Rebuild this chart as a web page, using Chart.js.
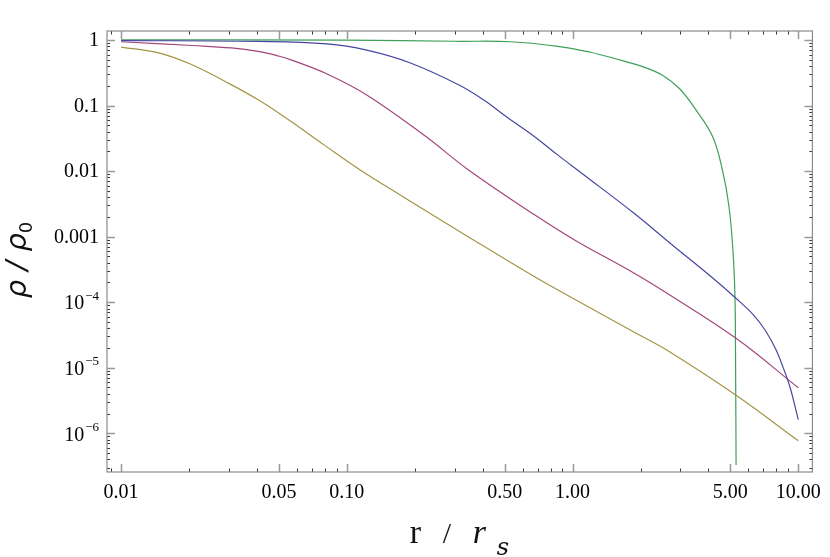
<!DOCTYPE html>
<html>
<head>
    <title>Density profiles</title>
    <script src="https://cdn.jsdelivr.net/npm/chart.js"></script>
    <style>
        body { margin: 0; background: #fff; }
    </style>
</head>
<body>
    <canvas id="myChart" width="830" height="557"></canvas>
    <script>
        // values (r / r_s, rho / rho_0)
        var rBlue = [0.01, 0.0405, 0.0817, 0.1225, 0.19, 0.314, 0.403, 0.52, 0.679, 0.861, 1.12, 1.86, 2.60, 5.26, 7.11, 8.87, 10];
        var rhoBlue = [0.98, 0.95, 0.87, 0.70, 0.45, 0.206, 0.122, 0.064, 0.0335, 0.0175, 0.0088, 0.00231, 8.9e-4, 1.17e-4, 3.8e-5, 7.3e-6, 1.62e-6];

        var rMagenta = [0.01, 0.0207, 0.0308, 0.0405, 0.0497, 0.0566, 0.0817, 0.1225, 0.224, 0.346, 0.679, 1.02, 1.86, 2.60, 5.26, 10];
        var rhoMagenta = [0.94, 0.824, 0.755, 0.668, 0.57, 0.496, 0.303, 0.145, 0.0336, 0.0104, 0.00215, 8.9e-4, 2.81e-4, 1.39e-4, 2.86e-5, 4.95e-6];

        var rOlive = [0.01, 0.0148, 0.0207, 0.0289, 0.0405, 0.0566, 0.0792, 0.1146, 0.178, 0.346, 0.679, 0.948, 1.86, 2.60, 5.26, 10];
        var rhoOlive = [0.78, 0.63, 0.416, 0.233, 0.122, 0.0569, 0.0251, 0.0104, 0.00404, 0.00099, 2.44e-4, 1.28e-4, 3.54e-5, 1.88e-5, 3.87e-6, 7.7e-7];

        var rGreen = [0.01, 0.1, 0.3, 0.533, 0.86, 1.2, 1.52, 2.06, 2.51, 2.98, 3.52, 4.17, 4.61, 4.93, 5.14, 5.24, 5.27, 5.30];
        var rhoGreen = [1.0, 0.995, 0.955, 0.94, 0.80, 0.65, 0.526, 0.388, 0.288, 0.18, 0.0857, 0.0336, 0.0104, 0.00288, 5.66e-4, 1.22e-4, 1.7e-5, 3.3e-7];

        var xTickValues = [0.01, 0.05, 0.1, 0.5, 1, 5, 10];
        var xTickLabels = ['0.01', '0.05', '0.10', '0.50', '1.00', '5.00', '10.00'];
        var yTickValues = [1e-6, 1e-5, 1e-4, 1e-3, 1e-2, 1e-1, 1];
        // [base, exponent]
        var yTickLabels = [['10', '\u22126'], ['10', '\u22125'], ['10', '\u22124'], ['0.001', ''], ['0.01', ''], ['0.1', ''], ['1', '']];

        function pairs(xs, ys) {
            return xs.map(function (x, i) { return { x: x, y: ys[i] }; });
        }

        function series(xs, ys, color) {
            return {
                data: pairs(xs, ys),
                borderColor: color,
                borderWidth: 1.2,
                pointRadius: 0,
                tension: 0.4,
                fill: false
            };
        }

        // inward frame ticks on all four sides, frame, y labels with exponents, axis titles
        var framePlugin = {
            id: 'frame',
            afterDraw: function (chart) {
                var ctx = chart.ctx, a = chart.chartArea;
                var xs = chart.scales.x, ys = chart.scales.y;
                ctx.save();

                function xTick(v, len, col) {
                    var p = Math.round(xs.getPixelForValue(v)) + 0.5;
                    ctx.strokeStyle = col;
                    ctx.beginPath();
                    ctx.moveTo(p, a.bottom); ctx.lineTo(p, a.bottom - len);
                    ctx.moveTo(p, a.top); ctx.lineTo(p, a.top + len);
                    ctx.stroke();
                }
                function yTick(v, len, col) {
                    var p = Math.round(ys.getPixelForValue(v)) + 0.5;
                    ctx.strokeStyle = col;
                    ctx.beginPath();
                    ctx.moveTo(a.left, p); ctx.lineTo(a.left + len, p);
                    ctx.moveTo(a.right, p); ctx.lineTo(a.right - len, p);
                    ctx.stroke();
                }

                ctx.lineWidth = 1;
                for (var d = -3; d <= 1; d++) {
                    for (var m = 2; m <= 9; m++) {
                        var v = m * Math.pow(10, d);
                        if (m === 5 || v < xs.min || v > xs.max) continue;
                        xTick(v, 3.5, '#333');
                    }
                }
                for (d = -7; d <= 0; d++) {
                    for (m = 2; m <= 9; m++) {
                        v = m * Math.pow(10, d);
                        if (v < ys.min || v > ys.max) continue;
                        yTick(v, 3, '#333');
                    }
                }
                ctx.lineWidth = 1.5;
                xTickValues.forEach(function (v) { xTick(v, 8, '#999'); });
                yTickValues.forEach(function (v) { yTick(v, 8, '#999'); });

                ctx.strokeStyle = '#8c8c8c';
                ctx.lineWidth = 1.2;
                ctx.strokeRect(a.left, a.top, a.right - a.left, a.bottom - a.top);

                // y tick labels
                ctx.fillStyle = '#000';
                ctx.textAlign = 'right';
                ctx.textBaseline = 'middle';
                yTickValues.forEach(function (v, i) {
                    var p = ys.getPixelForValue(v);
                    var right = a.left - 8;
                    var lab = yTickLabels[i];
                    if (lab[1]) {
                        ctx.font = '13px "Liberation Serif"';
                        var ew = ctx.measureText(lab[1]).width;
                        ctx.fillText(lab[1], right, p - 6);
                        ctx.font = '20px "Liberation Serif"';
                        ctx.fillText(lab[0], right - ew - 1, p + 2);
                    } else {
                        ctx.font = '20px "Liberation Serif"';
                        ctx.fillText(lab[0], right, p + 1);
                    }
                });

                // axis titles with sub-scripts
                var midX = (a.left + a.right) / 2;
                ctx.textAlign = 'left';
                ctx.textBaseline = 'alphabetic';
                ctx.fillStyle = '#111';
                ctx.font = '34px "Liberation Serif"';
                ctx.fillText('r', midX - 50, 543);
                ctx.font = '30px "Liberation Serif"';
                ctx.fillText('/', midX - 17, 543);
                ctx.font = 'italic 34px "Liberation Serif"';
                ctx.fillText('r', midX + 13, 543);
                ctx.font = 'italic 24px "DejaVu Serif"';
                ctx.fillText('s', midX + 37, 555);

                ctx.save();
                ctx.translate(26, 260);
                ctx.rotate(-Math.PI / 2);
                ctx.font = 'italic 29px "DejaVu Sans"';
                var t1 = '\u03C1 / \u03C1';
                var w1 = ctx.measureText(t1).width;
                ctx.font = '18px "DejaVu Sans"';
                var w2 = ctx.measureText('0').width;
                var x0 = -(w1 + w2) / 2;
                ctx.font = 'italic 29px "DejaVu Sans"';
                ctx.fillText(t1, x0, 0);
                ctx.font = '18px "DejaVu Sans"';
                ctx.fillText('0', x0 + w1, 6);
                ctx.restore();

                ctx.restore();
            }
        };

        var ctx = document.getElementById('myChart').getContext('2d');
        var myChart = new Chart(ctx, {
            type: 'line',
            data: {
                datasets: [
                    series(rBlue, rhoBlue, '#4646a3'),
                    series(rMagenta, rhoMagenta, '#a3467b'),
                    series(rOlive, rhoOlive, '#a39446'),
                    series(rGreen, rhoGreen, '#3f9f58')
                ]
            },
            options: {
                responsive: false,
                animation: false,
                devicePixelRatio: 1,
                layout: { padding: { top: 31, right: 9, left: 0, bottom: 0 } },
                plugins: { legend: { display: false }, tooltip: { enabled: false } },
                scales: {
                    x: {
                        type: 'logarithmic',
                        min: 0.00866,
                        max: 11.55,
                        grid: { display: false, drawTicks: false },
                        border: { display: false },
                        afterBuildTicks: function (scale) {
                            scale.ticks = xTickValues.map(function (v) { return { value: v }; });
                        },
                        afterFit: function (scale) { scale.height = 85; },
                        ticks: {
                            autoSkip: false,
                            maxRotation: 0,
                            padding: 9,
                            color: '#000',
                            font: { family: 'Liberation Serif', size: 20 },
                            callback: function (value, index) { return xTickLabels[index]; }
                        }
                    },
                    y: {
                        type: 'logarithmic',
                        min: 2.57e-7,
                        max: 1.37,
                        grid: { display: false, drawTicks: false },
                        border: { display: false },
                        afterBuildTicks: function (scale) {
                            scale.ticks = yTickValues.map(function (v) { return { value: v }; });
                        },
                        afterFit: function (scale) { scale.width = 107; },
                        ticks: { display: false }
                    }
                }
            },
            plugins: [framePlugin]
        });
    </script>
</body>
</html>
